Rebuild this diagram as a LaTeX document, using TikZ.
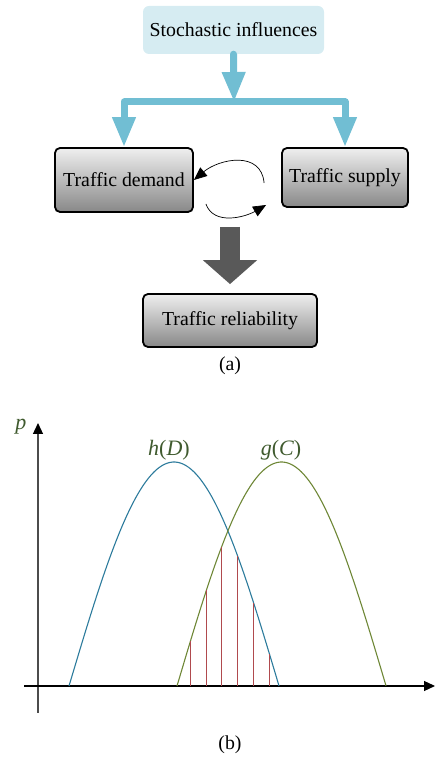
\documentclass[tikz,border=0pt]{standalone}
\usepackage{fontspec}
\setmainfont{Liberation Serif}
\usetikzlibrary{arrows.meta, positioning}
\definecolor{stochfill}{HTML}{D6ECF2}
\definecolor{cyanarr}{HTML}{71BED3}
\definecolor{boxtop}{HTML}{EFEFEF}
\definecolor{boxbot}{HTML}{888888}
\definecolor{darkarr}{HTML}{595959}
\definecolor{hblue}{HTML}{2C7B9C}
\definecolor{golive}{HTML}{6E8736}
\definecolor{labgreen}{HTML}{3F5A2E}
\definecolor{stripe}{HTML}{B04A4E}

\begin{document}
\begin{tikzpicture}[x=1pt, y=1pt,
    box/.style={draw=black, line width=1.8pt, rounded corners=5pt, top color=boxtop, bottom color=boxbot,
      font=\fontsize{19.8}{22}\selectfont, inner sep=0pt},
    cyanline/.style={draw=cyanarr, line width=7pt, line join=round, line cap=round, -{Triangle[width=22pt,length=30pt]}},
    cycle/.style={draw=black, line width=0.7pt, -{Triangle[length=13pt,width=11pt]}},
    bigarrow/.style={draw=darkarr, line width=20pt, -{Triangle[width=53pt,length=24pt]}, shorten <=39pt, shorten >=9pt},
    axis/.style={line width=1.2pt, -{Triangle[length=11pt,width=10pt,color=black]}},
    caption/.style={font=\fontsize{19.8}{22}\selectfont},
    flabel/.style={text=labgreen, font=\fontsize{22}{24}\selectfont\itshape}]
      \useasboundingbox (0,0) rectangle (435,757);

      % (a) influence diagram
      \node[fill=stochfill, rounded corners=6pt, minimum width=181pt, minimum height=48pt,
        font=\fontsize{19.8}{22}\selectfont] (stoch) at (233.5,727) {Stochastic influences};
      \node[box, minimum width=138pt, minimum height=64pt] (demand) at (124,577) {Traffic demand};
      \node[box, minimum width=126pt, minimum height=59pt] (supply) at (345,579.5) {Traffic supply};
      \node[box, minimum width=174pt, minimum height=53pt] (reliab) at (230,436.5) {Traffic reliability};
      \node[caption] (capa) at (230,391) {(a)};
      \coordinate (split) at (234,655);
      \coordinate (loop) at (230,569);

      % influences spread to demand and supply
      \draw[cyanline] (stoch.south) -- (split);
      \draw[cyanline] (split) -| (demand.north);
      \draw[cyanline] (split) -| (supply.north);

      % interaction of demand and supply
      \draw[cycle] ([xshift=-17pt,yshift=-5.5pt]supply.west) to[out=95,in=40,looseness=1.2] (demand.east);
      \draw[cycle] ([xshift=12pt,yshift=-24pt]demand.east) to[out=-70,in=210] ([xshift=-15pt,yshift=-27.5pt]supply.west);

      % result
      \draw[bigarrow] (loop) -- (reliab);

      % (b) overlap of the two densities
      \draw[axis, draw=black!70] (38,44) -- (38,334);
      \draw[axis] (24,71) -- (435,71);
      \node[flabel] (p) at (21,330) {p};
      \draw[hblue, line width=1.1pt] plot[domain=69:279, samples=80] (\x, {71+224*sin(0.857*(\x-69))});
      \draw[golive, line width=1.1pt] plot[domain=177:386, samples=80] (\x, {71+224*sin(0.861*(\x-177))});
      \node[flabel] (hD) at (169,307) {h\upshape(\itshape D\upshape)};
      \node[flabel] (gC) at (281,307) {g\upshape(\itshape C\upshape)};
      \foreach \xx in {190.5,206.5,221.5,237.5,253.5,269.5} {
        \pgfmathsetmacro\stripetop{min(224*sin(0.857*(\xx-69)), 224*sin(0.861*(\xx-177)))}
        \draw[stripe, line width=1.4pt] (\xx,71) -- (\xx,71+\stripetop);
      }
      \node[caption] (capb) at (230,12) {(b)};
    \end{tikzpicture}
\end{document}
